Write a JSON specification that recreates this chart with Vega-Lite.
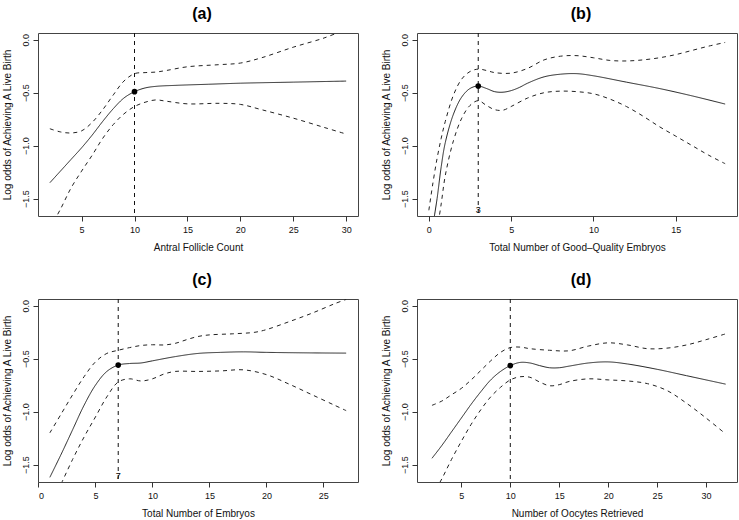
{
  "$schema": "https://vega.github.io/schema/vega-lite/v6.json",
  "background": "white",
  "padding": {"left": 1, "top": 5, "right": 0, "bottom": 0},
  "datasets": {
    "curves": [
      {"panel":"a","band":"fit","x":2,"y":-1.35},{"panel":"a","band":"fit","x":3,"y":-1.24},{"panel":"a","band":"fit","x":4,"y":-1.13},{"panel":"a","band":"fit","x":5,"y":-1.02},{"panel":"a","band":"fit","x":6,"y":-0.9},{"panel":"a","band":"fit","x":7,"y":-0.77},{"panel":"a","band":"fit","x":8,"y":-0.65},{"panel":"a","band":"fit","x":9,"y":-0.55},{"panel":"a","band":"fit","x":10,"y":-0.49},{"panel":"a","band":"fit","x":11,"y":-0.455},{"panel":"a","band":"fit","x":12,"y":-0.44},{"panel":"a","band":"fit","x":14,"y":-0.43},{"panel":"a","band":"fit","x":17,"y":-0.42},{"panel":"a","band":"fit","x":20,"y":-0.41},{"panel":"a","band":"fit","x":25,"y":-0.4},{"panel":"a","band":"fit","x":30,"y":-0.39},
      {"panel":"a","band":"upper","x":2,"y":-0.84},{"panel":"a","band":"upper","x":3,"y":-0.87},{"panel":"a","band":"upper","x":4,"y":-0.88},{"panel":"a","band":"upper","x":5,"y":-0.86},{"panel":"a","band":"upper","x":6,"y":-0.78},{"panel":"a","band":"upper","x":7,"y":-0.66},{"panel":"a","band":"upper","x":8,"y":-0.52},{"panel":"a","band":"upper","x":9,"y":-0.39},{"panel":"a","band":"upper","x":10,"y":-0.32},{"panel":"a","band":"upper","x":11,"y":-0.31},{"panel":"a","band":"upper","x":12,"y":-0.305},{"panel":"a","band":"upper","x":13,"y":-0.29},{"panel":"a","band":"upper","x":15,"y":-0.255},{"panel":"a","band":"upper","x":18,"y":-0.235},{"panel":"a","band":"upper","x":20,"y":-0.22},{"panel":"a","band":"upper","x":22,"y":-0.17},{"panel":"a","band":"upper","x":25,"y":-0.07},{"panel":"a","band":"upper","x":28,"y":0.02},{"panel":"a","band":"upper","x":30,"y":0.1},
      {"panel":"a","band":"lower","x":2,"y":-1.78},{"panel":"a","band":"lower","x":3,"y":-1.6},{"panel":"a","band":"lower","x":4,"y":-1.4},{"panel":"a","band":"lower","x":5,"y":-1.24},{"panel":"a","band":"lower","x":6,"y":-1.09},{"panel":"a","band":"lower","x":7,"y":-0.93},{"panel":"a","band":"lower","x":8,"y":-0.8},{"panel":"a","band":"lower","x":9,"y":-0.7},{"panel":"a","band":"lower","x":10,"y":-0.63},{"panel":"a","band":"lower","x":11,"y":-0.59},{"panel":"a","band":"lower","x":12,"y":-0.568},{"panel":"a","band":"lower","x":13,"y":-0.58},{"panel":"a","band":"lower","x":15,"y":-0.605},{"panel":"a","band":"lower","x":18,"y":-0.6},{"panel":"a","band":"lower","x":20,"y":-0.61},{"panel":"a","band":"lower","x":22,"y":-0.66},{"panel":"a","band":"lower","x":25,"y":-0.74},{"panel":"a","band":"lower","x":28,"y":-0.83},{"panel":"a","band":"lower","x":30,"y":-0.89},

      {"panel":"b","band":"fit","x":0.3,"y":-1.7},{"panel":"b","band":"fit","x":0.5,"y":-1.5},{"panel":"b","band":"fit","x":0.75,"y":-1.2},{"panel":"b","band":"fit","x":1,"y":-0.97},{"panel":"b","band":"fit","x":1.5,"y":-0.7},{"panel":"b","band":"fit","x":2,"y":-0.54},{"panel":"b","band":"fit","x":2.5,"y":-0.46},{"panel":"b","band":"fit","x":3,"y":-0.437},{"panel":"b","band":"fit","x":3.5,"y":-0.46},{"panel":"b","band":"fit","x":4,"y":-0.49},{"panel":"b","band":"fit","x":4.5,"y":-0.495},{"panel":"b","band":"fit","x":5,"y":-0.48},{"panel":"b","band":"fit","x":5.5,"y":-0.45},{"panel":"b","band":"fit","x":6,"y":-0.41},{"panel":"b","band":"fit","x":7,"y":-0.35},{"panel":"b","band":"fit","x":8,"y":-0.325},{"panel":"b","band":"fit","x":9,"y":-0.32},{"panel":"b","band":"fit","x":10,"y":-0.34},{"panel":"b","band":"fit","x":12,"y":-0.4},{"panel":"b","band":"fit","x":14,"y":-0.46},{"panel":"b","band":"fit","x":16,"y":-0.53},{"panel":"b","band":"fit","x":18,"y":-0.607},
      {"panel":"b","band":"upper","x":0,"y":-1.61},{"panel":"b","band":"upper","x":0.25,"y":-1.35},{"panel":"b","band":"upper","x":0.5,"y":-1.12},{"panel":"b","band":"upper","x":0.75,"y":-0.93},{"panel":"b","band":"upper","x":1,"y":-0.77},{"panel":"b","band":"upper","x":1.5,"y":-0.52},{"panel":"b","band":"upper","x":2,"y":-0.37},{"panel":"b","band":"upper","x":2.5,"y":-0.3},{"panel":"b","band":"upper","x":3,"y":-0.277},{"panel":"b","band":"upper","x":3.5,"y":-0.29},{"panel":"b","band":"upper","x":4,"y":-0.31},{"panel":"b","band":"upper","x":5,"y":-0.315},{"panel":"b","band":"upper","x":6,"y":-0.27},{"panel":"b","band":"upper","x":7,"y":-0.19},{"panel":"b","band":"upper","x":8,"y":-0.155},{"panel":"b","band":"upper","x":9,"y":-0.15},{"panel":"b","band":"upper","x":10,"y":-0.17},{"panel":"b","band":"upper","x":11,"y":-0.195},{"panel":"b","band":"upper","x":12,"y":-0.2},{"panel":"b","band":"upper","x":13,"y":-0.19},{"panel":"b","band":"upper","x":14,"y":-0.17},{"panel":"b","band":"upper","x":15,"y":-0.14},{"panel":"b","band":"upper","x":16,"y":-0.1},{"panel":"b","band":"upper","x":17,"y":-0.06},{"panel":"b","band":"upper","x":18,"y":-0.025},
      {"panel":"b","band":"lower","x":0.5,"y":-1.8},{"panel":"b","band":"lower","x":0.75,"y":-1.55},{"panel":"b","band":"lower","x":1,"y":-1.28},{"panel":"b","band":"lower","x":1.5,"y":-0.95},{"panel":"b","band":"lower","x":2,"y":-0.74},{"panel":"b","band":"lower","x":2.5,"y":-0.62},{"panel":"b","band":"lower","x":3,"y":-0.575},{"panel":"b","band":"lower","x":3.5,"y":-0.62},{"panel":"b","band":"lower","x":4,"y":-0.66},{"panel":"b","band":"lower","x":4.5,"y":-0.665},{"panel":"b","band":"lower","x":5,"y":-0.63},{"panel":"b","band":"lower","x":6,"y":-0.55},{"panel":"b","band":"lower","x":7,"y":-0.5},{"panel":"b","band":"lower","x":8,"y":-0.485},{"panel":"b","band":"lower","x":9,"y":-0.49},{"panel":"b","band":"lower","x":10,"y":-0.51},{"panel":"b","band":"lower","x":11,"y":-0.56},{"panel":"b","band":"lower","x":12,"y":-0.63},{"panel":"b","band":"lower","x":13,"y":-0.72},{"panel":"b","band":"lower","x":14,"y":-0.82},{"panel":"b","band":"lower","x":15,"y":-0.91},{"panel":"b","band":"lower","x":16,"y":-1.0},{"panel":"b","band":"lower","x":17,"y":-1.09},{"panel":"b","band":"lower","x":18,"y":-1.17},

      {"panel":"c","band":"fit","x":1,"y":-1.62},{"panel":"c","band":"fit","x":2,"y":-1.4},{"panel":"c","band":"fit","x":3,"y":-1.17},{"panel":"c","band":"fit","x":4,"y":-0.94},{"panel":"c","band":"fit","x":5,"y":-0.75},{"panel":"c","band":"fit","x":6,"y":-0.62},{"panel":"c","band":"fit","x":7,"y":-0.56},{"panel":"c","band":"fit","x":8,"y":-0.545},{"panel":"c","band":"fit","x":9,"y":-0.54},{"panel":"c","band":"fit","x":10,"y":-0.52},{"panel":"c","band":"fit","x":12,"y":-0.48},{"panel":"c","band":"fit","x":14,"y":-0.45},{"panel":"c","band":"fit","x":16,"y":-0.44},{"panel":"c","band":"fit","x":18,"y":-0.435},{"panel":"c","band":"fit","x":20,"y":-0.44},{"panel":"c","band":"fit","x":24,"y":-0.445},{"panel":"c","band":"fit","x":27,"y":-0.447},
      {"panel":"c","band":"upper","x":1,"y":-1.2},{"panel":"c","band":"upper","x":2,"y":-1.02},{"panel":"c","band":"upper","x":3,"y":-0.84},{"panel":"c","band":"upper","x":4,"y":-0.67},{"panel":"c","band":"upper","x":5,"y":-0.53},{"panel":"c","band":"upper","x":6,"y":-0.45},{"panel":"c","band":"upper","x":7,"y":-0.42},{"panel":"c","band":"upper","x":8,"y":-0.395},{"panel":"c","band":"upper","x":9,"y":-0.375},{"panel":"c","band":"upper","x":10,"y":-0.368},{"panel":"c","band":"upper","x":11,"y":-0.37},{"panel":"c","band":"upper","x":12,"y":-0.355},{"panel":"c","band":"upper","x":13,"y":-0.32},{"panel":"c","band":"upper","x":14,"y":-0.29},{"panel":"c","band":"upper","x":15,"y":-0.275},{"panel":"c","band":"upper","x":17,"y":-0.265},{"panel":"c","band":"upper","x":19,"y":-0.25},{"panel":"c","band":"upper","x":20,"y":-0.225},{"panel":"c","band":"upper","x":22,"y":-0.15},{"panel":"c","band":"upper","x":24,"y":-0.07},{"panel":"c","band":"upper","x":26,"y":0.02},{"panel":"c","band":"upper","x":27,"y":0.06},
      {"panel":"c","band":"lower","x":2,"y":-1.68},{"panel":"c","band":"lower","x":3,"y":-1.45},{"panel":"c","band":"lower","x":4,"y":-1.24},{"panel":"c","band":"lower","x":5,"y":-1.05},{"panel":"c","band":"lower","x":6,"y":-0.86},{"panel":"c","band":"lower","x":7,"y":-0.72},{"panel":"c","band":"lower","x":8,"y":-0.69},{"panel":"c","band":"lower","x":9,"y":-0.71},{"panel":"c","band":"lower","x":10,"y":-0.69},{"panel":"c","band":"lower","x":11,"y":-0.645},{"panel":"c","band":"lower","x":12,"y":-0.62},{"panel":"c","band":"lower","x":14,"y":-0.62},{"panel":"c","band":"lower","x":16,"y":-0.615},{"panel":"c","band":"lower","x":18,"y":-0.605},{"panel":"c","band":"lower","x":20,"y":-0.65},{"panel":"c","band":"lower","x":22,"y":-0.74},{"panel":"c","band":"lower","x":24,"y":-0.84},{"panel":"c","band":"lower","x":26,"y":-0.94},{"panel":"c","band":"lower","x":27,"y":-0.99},

      {"panel":"d","band":"fit","x":2,"y":-1.44},{"panel":"d","band":"fit","x":3,"y":-1.32},{"panel":"d","band":"fit","x":4,"y":-1.19},{"panel":"d","band":"fit","x":5,"y":-1.06},{"panel":"d","band":"fit","x":6,"y":-0.93},{"panel":"d","band":"fit","x":7,"y":-0.81},{"panel":"d","band":"fit","x":8,"y":-0.7},{"panel":"d","band":"fit","x":9,"y":-0.62},{"panel":"d","band":"fit","x":10,"y":-0.565},{"panel":"d","band":"fit","x":11,"y":-0.535},{"panel":"d","band":"fit","x":12,"y":-0.54},{"panel":"d","band":"fit","x":13,"y":-0.565},{"panel":"d","band":"fit","x":14,"y":-0.585},{"panel":"d","band":"fit","x":15,"y":-0.585},{"panel":"d","band":"fit","x":16,"y":-0.57},{"panel":"d","band":"fit","x":18,"y":-0.54},{"panel":"d","band":"fit","x":20,"y":-0.53},{"panel":"d","band":"fit","x":22,"y":-0.55},{"panel":"d","band":"fit","x":25,"y":-0.6},{"panel":"d","band":"fit","x":28,"y":-0.66},{"panel":"d","band":"fit","x":32,"y":-0.74},
      {"panel":"d","band":"upper","x":2,"y":-0.94},{"panel":"d","band":"upper","x":3,"y":-0.9},{"panel":"d","band":"upper","x":4,"y":-0.84},{"panel":"d","band":"upper","x":5,"y":-0.78},{"panel":"d","band":"upper","x":6,"y":-0.7},{"panel":"d","band":"upper","x":7,"y":-0.61},{"panel":"d","band":"upper","x":8,"y":-0.52},{"panel":"d","band":"upper","x":9,"y":-0.44},{"panel":"d","band":"upper","x":10,"y":-0.395},{"panel":"d","band":"upper","x":11,"y":-0.39},{"panel":"d","band":"upper","x":12,"y":-0.405},{"panel":"d","band":"upper","x":14,"y":-0.42},{"panel":"d","band":"upper","x":16,"y":-0.425},{"panel":"d","band":"upper","x":18,"y":-0.38},{"panel":"d","band":"upper","x":20,"y":-0.35},{"panel":"d","band":"upper","x":22,"y":-0.37},{"panel":"d","band":"upper","x":24,"y":-0.405},{"panel":"d","band":"upper","x":26,"y":-0.4},{"panel":"d","band":"upper","x":28,"y":-0.37},{"panel":"d","band":"upper","x":30,"y":-0.32},{"panel":"d","band":"upper","x":32,"y":-0.265},
      {"panel":"d","band":"lower","x":2,"y":-1.8},{"panel":"d","band":"lower","x":3,"y":-1.635},{"panel":"d","band":"lower","x":4,"y":-1.45},{"panel":"d","band":"lower","x":5,"y":-1.28},{"panel":"d","band":"lower","x":6,"y":-1.12},{"panel":"d","band":"lower","x":7,"y":-0.98},{"panel":"d","band":"lower","x":8,"y":-0.86},{"panel":"d","band":"lower","x":9,"y":-0.77},{"panel":"d","band":"lower","x":10,"y":-0.7},{"panel":"d","band":"lower","x":11,"y":-0.67},{"panel":"d","band":"lower","x":12,"y":-0.675},{"panel":"d","band":"lower","x":13,"y":-0.72},{"panel":"d","band":"lower","x":14,"y":-0.755},{"panel":"d","band":"lower","x":15,"y":-0.745},{"panel":"d","band":"lower","x":16,"y":-0.715},{"panel":"d","band":"lower","x":18,"y":-0.69},{"panel":"d","band":"lower","x":20,"y":-0.7},{"panel":"d","band":"lower","x":22,"y":-0.71},{"panel":"d","band":"lower","x":24,"y":-0.735},{"panel":"d","band":"lower","x":26,"y":-0.8},{"panel":"d","band":"lower","x":28,"y":-0.92},{"panel":"d","band":"lower","x":30,"y":-1.06},{"panel":"d","band":"lower","x":32,"y":-1.21}
    ],
    "cuts": [
      {"panel":"a","x":10,"y":-0.49,"label":"","ly":-1.605},
      {"panel":"b","x":3,"y":-0.437,"label":"3","ly":-1.605},
      {"panel":"c","x":7,"y":-0.56,"label":"7","ly":-1.605},
      {"panel":"d","x":10,"y":-0.565,"label":"","ly":-1.605}
    ]
  },
  "columns": 2,
  "bounds": "flush",
  "spacing": {"row": 83, "column": 59},
  "config": {
    "font": "Liberation Sans",
    "view": {"stroke": "#444", "strokeWidth": 1},
    "axis": {
      "grid": false, "domain": false, "ticks": true, "tickColor": "#333", "tickSize": 5,
      "labelFont": "Liberation Sans", "labelFontSize": 9, "labelColor": "#111",
      "titleFont": "Liberation Sans", "titleFontSize": 10, "titleFontWeight": "normal", "titleColor": "#111"
    },
    "axisX": {"labelPadding": 4, "titlePadding": 8},
    "axisY": {"labelAngle": 270, "labelAlign": "center", "labelBaseline": "bottom", "labelPadding": 3, "titlePadding": 9},
    "title": {"font": "Liberation Sans", "fontSize": 16, "fontWeight": "bold", "color": "#000", "baseline": "bottom", "offset": 11, "dx": 4}
  },
  "concat": [
    {
      "title": "(a)", "width": 320, "height": 183,
      "layer": [
        {"data": {"name": "curves"}, "transform": [{"filter": "datum.panel == 'a'"}],
         "mark": {"type": "line", "clip": true, "color": "#222", "strokeWidth": 1, "interpolate": "catmull-rom"},
         "encoding": {
           "x": {"field": "x", "type": "quantitative", "scale": {"domain": [0.88, 31.12], "nice": false, "zero": false}, "axis": {"values": [5,10,15,20,25,30], "title": "Antral Follicle Count"}},
           "y": {"field": "y", "type": "quantitative", "scale": {"domain": [-1.664, 0.064], "nice": false, "zero": false}, "axis": {"values": [-1.5,-1,-0.5,0], "format": ".1f", "title": "Log odds of Achieving A Live Birth"}},
           "detail": {"field": "band"},
           "strokeDash": {"field": "band", "type": "nominal", "scale": {"domain": ["fit","upper","lower"], "range": [[1,0],[4,4],[4,4]]}, "legend": null}
         }},
        {"data": {"name": "cuts"}, "transform": [{"filter": "datum.panel == 'a'"}],
         "mark": {"type": "rule", "color": "#111", "strokeWidth": 1, "strokeDash": [4,4]},
         "encoding": {"x": {"field": "x", "type": "quantitative"}}},
        {"data": {"name": "cuts"}, "transform": [{"filter": "datum.panel == 'a'"}],
         "mark": {"type": "point", "filled": true, "color": "#000", "size": 32, "opacity": 1},
         "encoding": {"x": {"field": "x", "type": "quantitative"}, "y": {"field": "y", "type": "quantitative"}}}
      ]
    },
    {
      "title": "(b)", "width": 320, "height": 183,
      "layer": [
        {"data": {"name": "curves"}, "transform": [{"filter": "datum.panel == 'b'"}],
         "mark": {"type": "line", "clip": true, "color": "#222", "strokeWidth": 1, "interpolate": "catmull-rom"},
         "encoding": {
           "x": {"field": "x", "type": "quantitative", "scale": {"domain": [-0.72, 18.72], "nice": false, "zero": false}, "axis": {"values": [0,5,10,15], "title": "Total Number of Good\u2013Quality Embryos"}},
           "y": {"field": "y", "type": "quantitative", "scale": {"domain": [-1.664, 0.064], "nice": false, "zero": false}, "axis": {"values": [-1.5,-1,-0.5,0], "format": ".1f", "title": "Log odds of Achieving A Live Birth"}},
           "detail": {"field": "band"},
           "strokeDash": {"field": "band", "type": "nominal", "scale": {"domain": ["fit","upper","lower"], "range": [[1,0],[4,4],[4,4]]}, "legend": null}
         }},
        {"data": {"name": "cuts"}, "transform": [{"filter": "datum.panel == 'b'"}],
         "mark": {"type": "rule", "color": "#111", "strokeWidth": 1, "strokeDash": [4,4]},
         "encoding": {"x": {"field": "x", "type": "quantitative"}}},
        {"data": {"name": "cuts"}, "transform": [{"filter": "datum.panel == 'b'"}],
         "mark": {"type": "point", "filled": true, "color": "#000", "size": 32, "opacity": 1},
         "encoding": {"x": {"field": "x", "type": "quantitative"}, "y": {"field": "y", "type": "quantitative"}}},
        {"data": {"name": "cuts"}, "transform": [{"filter": "datum.panel == 'b'"}],
         "mark": {"type": "text", "font": "Liberation Sans", "fontSize": 9, "color": "#000", "baseline": "middle", "align": "center"},
         "encoding": {"x": {"field": "x", "type": "quantitative"}, "y": {"field": "ly", "type": "quantitative"}, "text": {"field": "label"}}}
      ]
    },
    {
      "title": "(c)", "width": 320, "height": 183,
      "layer": [
        {"data": {"name": "curves"}, "transform": [{"filter": "datum.panel == 'c'"}],
         "mark": {"type": "line", "clip": true, "color": "#222", "strokeWidth": 1, "interpolate": "catmull-rom"},
         "encoding": {
           "x": {"field": "x", "type": "quantitative", "scale": {"domain": [-0.04, 28.04], "nice": false, "zero": false}, "axis": {"values": [0,5,10,15,20,25], "title": "Total Number of Embryos"}},
           "y": {"field": "y", "type": "quantitative", "scale": {"domain": [-1.664, 0.064], "nice": false, "zero": false}, "axis": {"values": [-1.5,-1,-0.5,0], "format": ".1f", "title": "Log odds of Achieving A Live Birth"}},
           "detail": {"field": "band"},
           "strokeDash": {"field": "band", "type": "nominal", "scale": {"domain": ["fit","upper","lower"], "range": [[1,0],[4,4],[4,4]]}, "legend": null}
         }},
        {"data": {"name": "cuts"}, "transform": [{"filter": "datum.panel == 'c'"}],
         "mark": {"type": "rule", "color": "#111", "strokeWidth": 1, "strokeDash": [4,4]},
         "encoding": {"x": {"field": "x", "type": "quantitative"}}},
        {"data": {"name": "cuts"}, "transform": [{"filter": "datum.panel == 'c'"}],
         "mark": {"type": "point", "filled": true, "color": "#000", "size": 32, "opacity": 1},
         "encoding": {"x": {"field": "x", "type": "quantitative"}, "y": {"field": "y", "type": "quantitative"}}},
        {"data": {"name": "cuts"}, "transform": [{"filter": "datum.panel == 'c'"}],
         "mark": {"type": "text", "font": "Liberation Sans", "fontSize": 9, "color": "#000", "baseline": "middle", "align": "center"},
         "encoding": {"x": {"field": "x", "type": "quantitative"}, "y": {"field": "ly", "type": "quantitative"}, "text": {"field": "label"}}}
      ]
    },
    {
      "title": "(d)", "width": 320, "height": 183,
      "layer": [
        {"data": {"name": "curves"}, "transform": [{"filter": "datum.panel == 'd'"}],
         "mark": {"type": "line", "clip": true, "color": "#222", "strokeWidth": 1, "interpolate": "catmull-rom"},
         "encoding": {
           "x": {"field": "x", "type": "quantitative", "scale": {"domain": [0.47, 33.16], "nice": false, "zero": false}, "axis": {"values": [5,10,15,20,25,30], "title": "Number of Oocytes Retrieved"}},
           "y": {"field": "y", "type": "quantitative", "scale": {"domain": [-1.664, 0.064], "nice": false, "zero": false}, "axis": {"values": [-1.5,-1,-0.5,0], "format": ".1f", "title": "Log odds of Achieving A Live Birth"}},
           "detail": {"field": "band"},
           "strokeDash": {"field": "band", "type": "nominal", "scale": {"domain": ["fit","upper","lower"], "range": [[1,0],[4,4],[4,4]]}, "legend": null}
         }},
        {"data": {"name": "cuts"}, "transform": [{"filter": "datum.panel == 'd'"}],
         "mark": {"type": "rule", "color": "#111", "strokeWidth": 1, "strokeDash": [4,4]},
         "encoding": {"x": {"field": "x", "type": "quantitative"}}},
        {"data": {"name": "cuts"}, "transform": [{"filter": "datum.panel == 'd'"}],
         "mark": {"type": "point", "filled": true, "color": "#000", "size": 32, "opacity": 1},
         "encoding": {"x": {"field": "x", "type": "quantitative"}, "y": {"field": "y", "type": "quantitative"}}}
      ]
    }
  ]
}
